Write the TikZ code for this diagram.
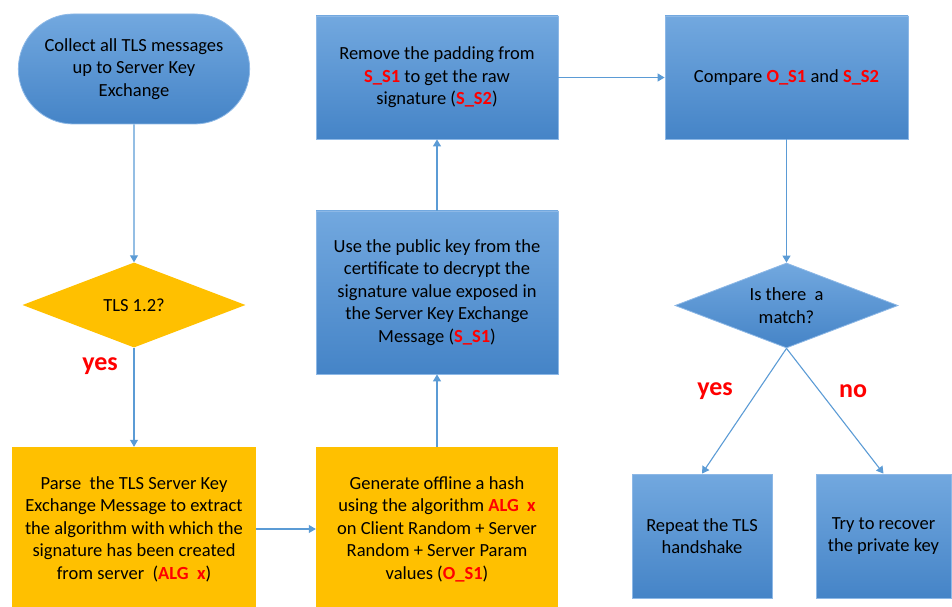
\documentclass[tikz,border=0pt]{standalone}
\usepackage{fontspec}
\setmainfont{Carlito}
\usetikzlibrary{shapes.geometric,shapes.misc,arrows.meta}
\definecolor{bluetop}{HTML}{72A8DF}
\definecolor{bluebot}{HTML}{4584C7}
\definecolor{blueedge}{HTML}{8DB8E6}
\definecolor{flowline}{HTML}{5B9BD5}
\definecolor{gold}{HTML}{FFC000}
\definecolor{hot}{HTML}{FF0000}
\newcommand{\hl}[1]{\textcolor{hot}{\textbf{#1}}}

\begin{document}
\begin{tikzpicture}[x=1pt,y=1pt]
            \tikzset{
                every node/.style={font=\fontsize{18.5}{22.5}\selectfont, align=center},
                bluebox/.style={rectangle, draw=blueedge, line width=0.8pt,
                    top color=bluetop, bottom color=bluebot, inner sep=2pt},
                goldbox/.style={rectangle, fill=gold, inner sep=2pt},
                decision/.style={diamond, aspect=2.6, inner sep=0pt,
                    minimum width=223pt, minimum height=85pt},
                flow/.style={draw=flowline, line width=1.1pt,
                    -{Triangle[length=7pt,width=8pt]}},
                answer/.style={text=hot, font=\fontsize{26}{28}\selectfont\bfseries}
            }
            \useasboundingbox (0,0) rectangle (952,606);

            % left column
            \node[rounded rectangle, top color=bluetop, bottom color=bluebot,
                draw=blueedge, line width=0.8pt,
                minimum width=238pt, minimum height=110pt] (start) at (134,537)
                {Collect all TLS messages\\up to Server Key\\Exchange};
            \node[decision, fill=gold] (tls) at (134,301) {TLS 1.2?};
            \node[goldbox, minimum width=244pt, minimum height=164pt] (parse) at (134,77)
                {Parse\ \ the TLS Server Key\\Exchange Message to extract\\the algorithm with which the\\signature has been created\\from server\ \ (\hl{ALG\ \ x})};

            % middle column
            \node[goldbox, minimum width=242pt, minimum height=164pt] (hash) at (437,77)
                {Generate offline a hash\\using the algorithm \hl{ALG\ \ x}\\on Client Random + Server\\Random + Server Param\\values (\hl{O\_S1})};
            \node[bluebox, minimum width=242pt, minimum height=163pt] (decrypt) at (437,313.5)
                {Use the public key from the\\certificate to decrypt the\\signature value exposed in\\the Server Key Exchange\\Message (\hl{S\_S1})};
            \node[bluebox, minimum width=242pt, minimum height=123pt] (unpad) at (437,528.5)
                {Remove the padding from\\\hl{S\_S1} to get the raw\\signature (\hl{S\_S2})};

            % right column
            \node[bluebox, minimum width=243pt, minimum height=123pt] (compare) at (786.5,528.5)
                {Compare \hl{O\_S1} and \hl{S\_S2}};
            \node[decision, draw=blueedge, line width=0.8pt,
                top color=bluetop, bottom color=bluebot] (match) at (786.5,300.5)
                {Is there\ \ a\\match?};
            \node[bluebox, minimum width=140pt, minimum height=124pt] (repeat) at (702,70)
                {Repeat the TLS\\handshake};
            \node[bluebox, minimum width=135pt, minimum height=124pt] (recover) at (883.5,70)
                {Try to recover\\the private key};

            \foreach \from/\to in {start/tls, tls/parse, parse/hash, hash/decrypt,
                    decrypt/unpad, unpad/compare, compare/match} {
                \draw[flow] (\from) -- (\to);
            }
            \draw[flow] (match.south) -- (repeat.north);
            \draw[flow] (match.south) -- (recover.north);

            \node[answer] (yesA) at (100,240) {yes};
            \node[answer] (yesB) at (715,215) {yes};
            \node[answer] (noB) at (853,215) {no};
        \end{tikzpicture}
\end{document}
